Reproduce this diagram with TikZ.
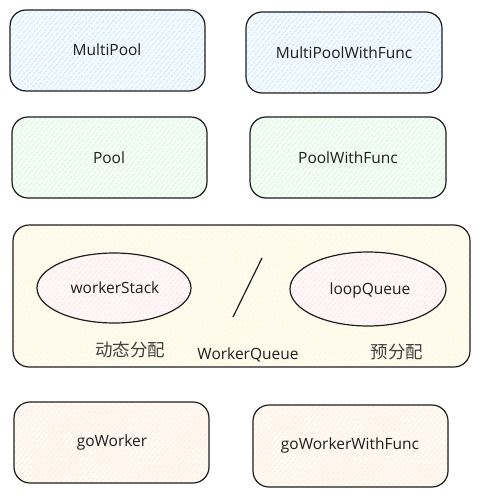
\documentclass[tikz,border=0pt]{standalone}
\usepackage{fontspec}
\setmainfont{Open Sans}
\newfontfamily\cjkfont{Noto Sans CJK SC}
\usetikzlibrary{patterns.meta}
\definecolor{ink}{HTML}{1E1E1E}
\definecolor{cblue}{HTML}{A5D8FF}
\definecolor{cgreen}{HTML}{B2F2BB}
\definecolor{cyellow}{HTML}{FFEC99}
\definecolor{cpink}{HTML}{FFC9C9}
\definecolor{corange}{HTML}{FFD8A8}
\tikzset{
  x=1pt,y=-1pt,
  sketch/.style={draw=ink,line width=1.2pt,rounded corners=16pt,
    preaction={fill=#1!12},
    pattern={Lines[angle=50,distance=4pt,line width=0.8pt]},pattern color=#1},
  oval/.style={draw=ink,line width=1.2pt,
    preaction={fill=#1!12},
    pattern={Lines[angle=50,distance=4pt,line width=0.8pt]},pattern color=#1},
  lbl/.style={text=ink,font=\fontsize{15.5}{18}\selectfont},
  cjk/.style={text=ink!85,font=\cjkfont\fontsize{17.5}{20}\selectfont},
}
\begin{document}
\begin{tikzpicture}
\useasboundingbox (0,0) rectangle (480,495);
% boxes
\path[sketch=cblue] (10,10) rectangle (205,91);
\node[lbl] (mp) at (107,50) {MultiPool};
\path[sketch=cblue] (246,12) rectangle (442,93);
\node[lbl] (mpf) at (344,53) {MultiPoolWithFunc};
\path[sketch=cgreen] (12,117) rectangle (207,198);
\node[lbl] (p) at (109,158) {Pool};
\path[sketch=cgreen] (250,117) rectangle (446,198);
\node[lbl] (pf) at (348,158) {PoolWithFunc};
% worker queue
\path[sketch=cyellow] (13,225) rectangle (470,367);
\path[oval=cpink] (114,288) ellipse [x radius=77,y radius=35];
\node[lbl] (ws) at (115,288) {workerStack};
\path[oval=cpink] (368,289) ellipse [x radius=78,y radius=37];
\node[lbl] (lq) at (370,290) {loopQueue};
\coordinate (s1) at (262,258);
\coordinate (s2) at (233,317);
\draw[ink,line width=1.2pt] (s1) -- (s2);
\node[cjk] (dt) at (130,350) {动态分配};
\node[lbl] (wq) at (248,355) {WorkerQueue};
\node[cjk] (yf) at (397,352) {预分配};
% workers
\path[sketch=corange] (14,402) rectangle (209,483);
\node[lbl] (gw) at (112,442) {goWorker};
\path[sketch=corange] (253,405) rectangle (448,487);
\node[lbl] (gwf) at (350,445) {goWorkerWithFunc};
\end{tikzpicture}
\end{document}
